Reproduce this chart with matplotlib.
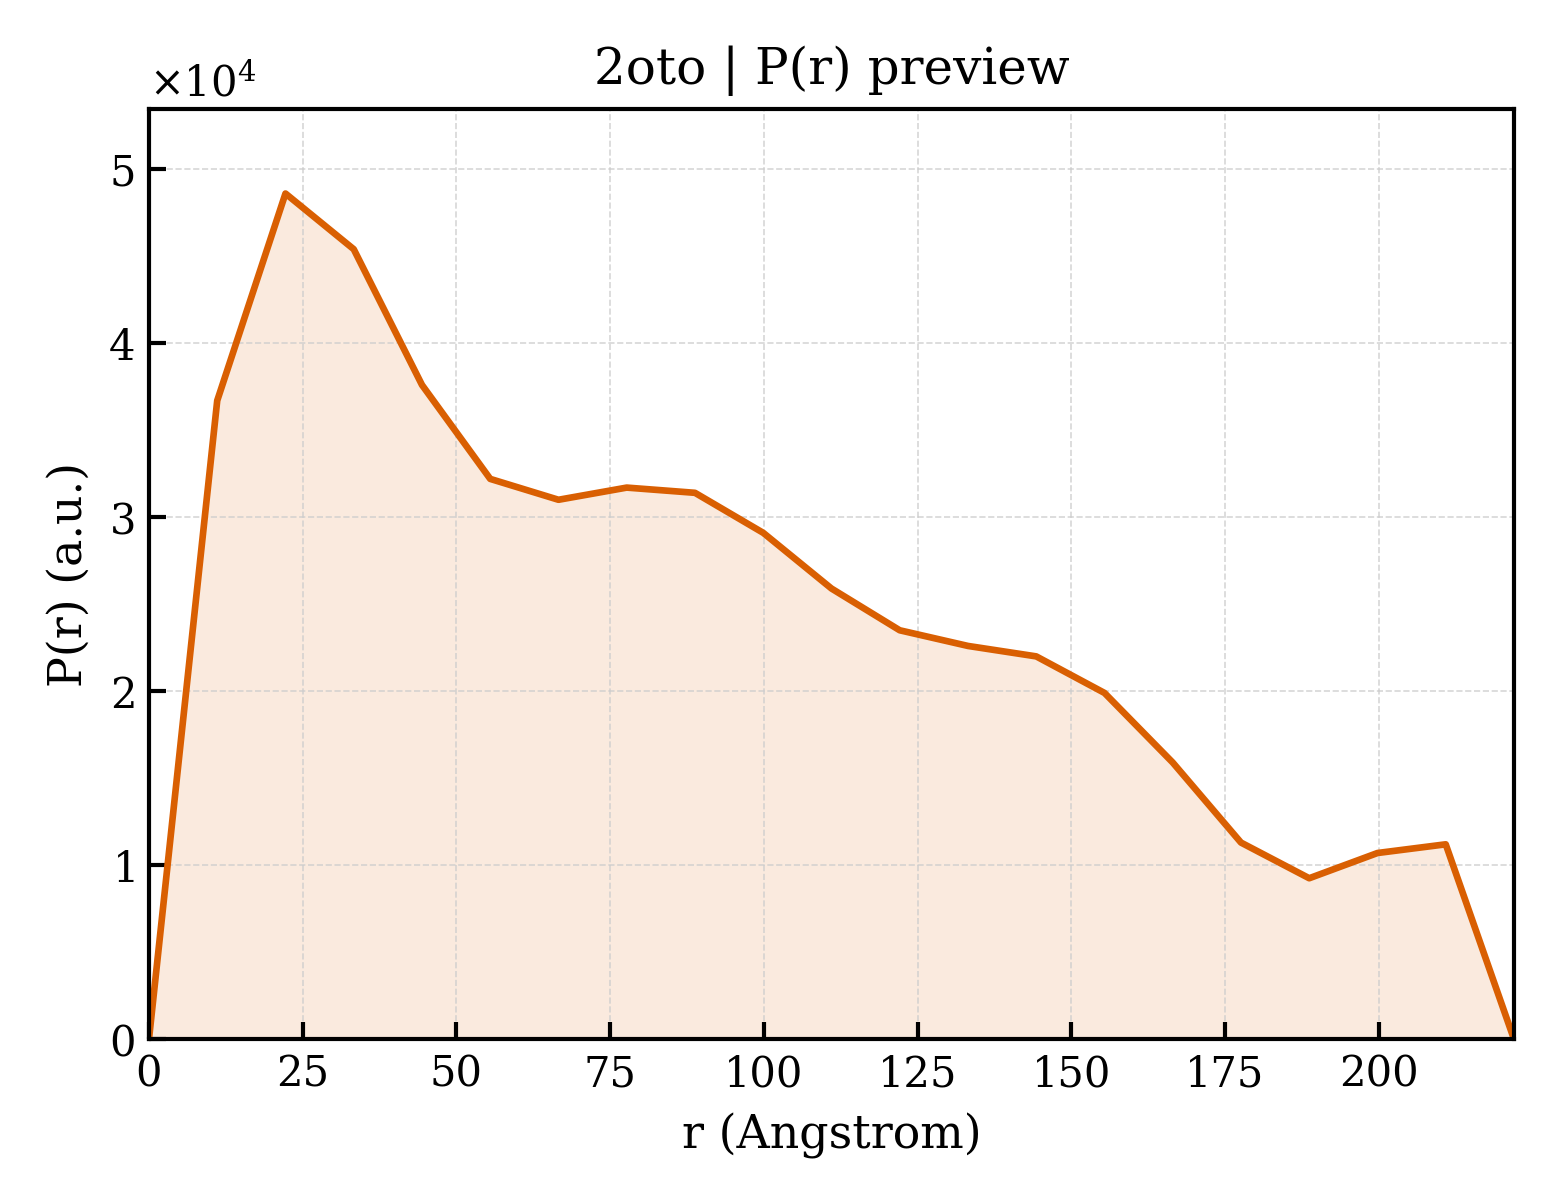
import numpy as np
import matplotlib
matplotlib.use("Agg")
import matplotlib.pyplot as plt

r = [0.0, 11.1, 22.2, 33.3, 44.4, 55.5, 66.6, 77.7, 88.8, 99.9, 111.0,
     122.1, 133.2, 144.3, 155.4, 166.5, 177.6, 188.7, 199.8, 210.9, 222.0]
pr = [0, 36700, 48600, 45400, 37600, 32200, 31000, 31700, 31400, 29100, 25900,
      23500, 22600, 22000, 19900, 15900, 11300, 9250, 10700, 11200, 0]

plt.rcParams['font.family'] = ['DejaVu Serif']
plt.rcParams['mathtext.fontset'] = 'dejavuserif'

fig, ax = plt.subplots(figsize=(5.2, 4.0), dpi=300)
color = '#D95F02'
ax.fill_between(r, pr, 0, color=color, alpha=0.13, linewidth=0)
ax.plot(r, pr, color=color, linewidth=1.6)
ax.set_xlim(0, max(r))
ax.set_ylim(0, max(pr) * 1.1)
ax.set_xlabel('r (Angstrom)', fontsize=11)
ax.set_ylabel('P(r) (a.u.)', fontsize=11)
ax.set_title('2oto | P(r) preview', fontsize=12)
ax.ticklabel_format(axis='y', style='sci', scilimits=(0, 0), useMathText=True)
ax.tick_params(direction='in', labelsize=10, length=4, width=1)
ax.grid(True, linestyle='--', linewidth=0.4, color='#cccccc', alpha=0.8)
for s in ax.spines.values():
    s.set_linewidth(1.0)
ax.yaxis.get_offset_text().set_fontsize(10)
fig.subplots_adjust(left=0.0955, right=0.9705, top=0.9092, bottom=0.134)
fig.savefig('out.png', dpi=300)
